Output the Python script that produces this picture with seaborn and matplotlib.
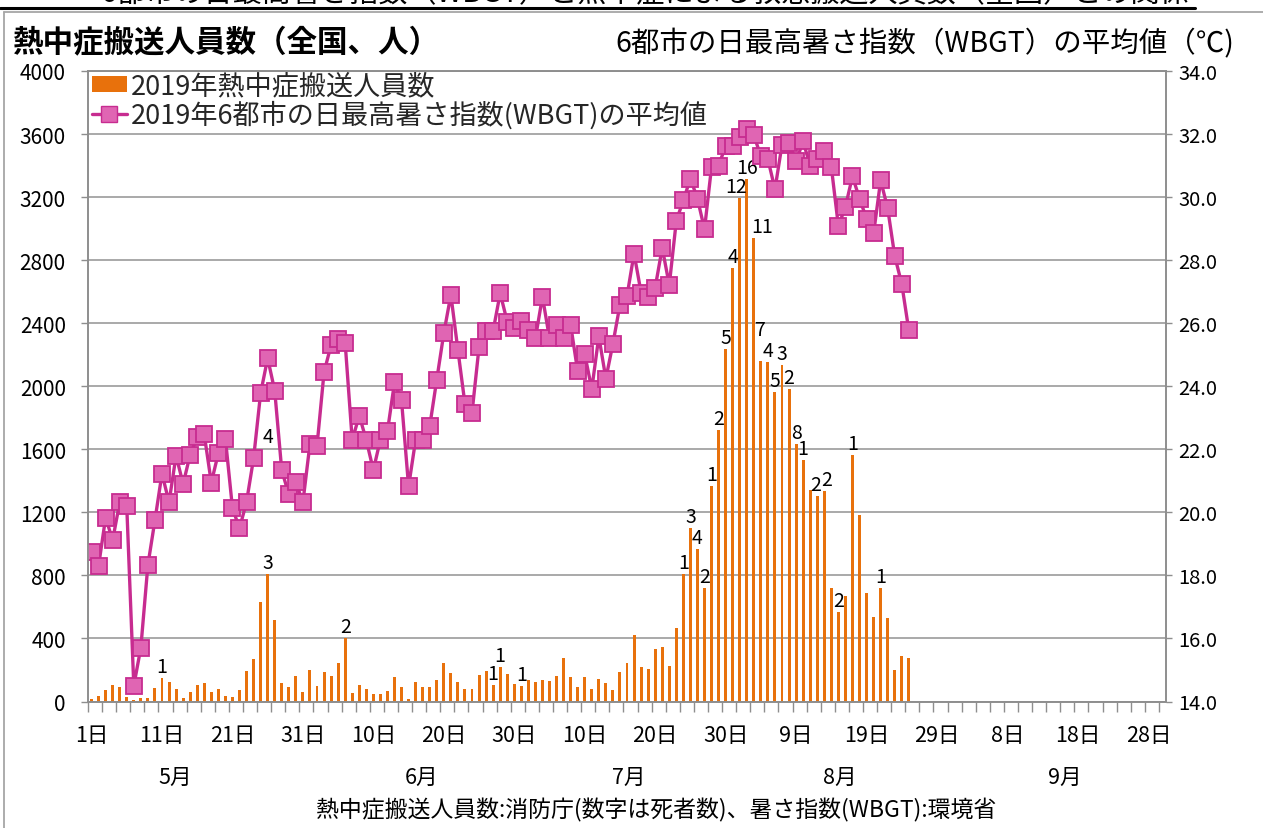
import numpy as np
import pandas as pd
import matplotlib
matplotlib.use("Agg")
import matplotlib.pyplot as plt
import matplotlib.transforms as mtransforms
from matplotlib.patches import Patch
from matplotlib.lines import Line2D
import seaborn as sns

sns.set_theme(style="white")
plt.rcParams['font.family'] = ['Noto Sans CJK JP', 'DejaVu Sans']

# ---------------- data ----------------
# day index 0 = May 1, 2019 ; axis covers May 1 .. Sep 30 (153 days)
n_axis_days = 153
day_index = list(range(117))  # May 1 .. Aug 25

transport = [17, 34, 72, 105, 93, 30, 8, 21, 21, 84,
             150, 124, 78, 25, 63, 105, 116, 59, 82, 36,
             30, 72, 194, 272, 633, 812, 519, 116, 89, 162,
             63, 203, 99, 184, 162, 245, 401, 57, 105, 78,
             47, 47, 64, 157, 94, 16, 126, 90, 90, 136,
             242, 178, 126, 79, 79, 168, 193, 104, 220, 172,
             111, 100, 136, 121, 136, 130, 161, 273, 157, 94,
             153, 79, 142, 115, 73, 187, 246, 419, 220, 206,
             332, 345, 225, 465, 811, 1102, 965, 723, 1370, 1725,
             2238, 2752, 3196, 3314, 2938, 2162, 2155, 1961, 2132, 1982,
             1636, 1529, 1339, 1303, 1335, 718, 569, 670, 1567, 1181,
             691, 537, 718, 529, 202, 288, 275]

wbgt = [18.74, 18.30, 19.83, 19.12, 20.32, 20.20, 14.50, 15.71, 18.33, 19.75,
        21.23, 20.32, 21.80, 20.90, 21.83, 22.38, 22.47, 20.94, 21.88, 22.34,
        20.14, 19.49, 20.33, 21.71, 23.78, 24.89, 23.86, 21.33, 20.57, 20.96,
        20.32, 22.17, 22.10, 24.44, 25.31, 25.50, 25.37, 22.29, 23.07, 22.29,
        21.34, 22.31, 22.57, 24.12, 23.55, 20.82, 22.30, 22.30, 22.73, 24.21,
        25.68, 26.90, 25.15, 23.44, 23.15, 25.24, 25.76, 25.76, 26.95, 26.05,
        25.84, 26.07, 25.77, 25.52, 26.84, 25.52, 25.95, 25.52, 25.95, 24.47,
        25.02, 23.91, 25.58, 24.24, 25.35, 26.58, 26.86, 28.21, 26.97, 26.84,
        27.13, 28.39, 27.21, 29.25, 29.90, 30.59, 29.95, 28.98, 30.96, 31.00,
        31.62, 31.62, 31.91, 32.17, 31.96, 31.30, 31.20, 30.25, 31.66, 31.72,
        31.14, 31.77, 30.98, 31.20, 31.45, 30.96, 29.08, 29.69, 30.66, 29.95,
        29.32, 28.85, 30.53, 29.64, 28.13, 27.24, 25.77]

deaths = {10: 1, 25: 3, 36: 2, 57: 1, 58: 1, 61: 1, 84: 1, 85: 3, 86: 4,
          87: 2, 88: 1, 89: 2, 90: 5, 91: 4, 92: 12, 93: 16, 94: 11, 95: 7,
          96: 4, 97: 5, 98: 3, 99: 2, 100: 8, 101: 1, 103: 2, 104: 2,
          106: 2, 108: 1, 112: 1}
extra_death_label = (25, 1680, "4")

x_tick_days = [0, 10, 20, 30, 40, 50, 60, 70, 80, 90, 100, 110, 120, 130, 140, 150]
x_tick_labels = ["1日", "11日", "21日", "31日", "10日", "20日", "30日", "10日",
                 "20日", "30日", "9日", "19日", "29日", "8日", "18日", "28日"]
month_labels = ["5月", "6月", "7月", "8月", "9月"]
month_pos = [11.9, 46.8, 76.2, 106.2, 138.2]
left_ticks = list(range(0, 4001, 400))
right_ticks = [14.0, 16.0, 18.0, 20.0, 22.0, 24.0, 26.0, 28.0, 30.0, 32.0, 34.0]

legend_labels = ["2019年熱中症搬送人員数", "2019年6都市の日最高暑さ指数(WBGT)の平均値"]
left_title = "熱中症搬送人員数（全国、人）"
right_title = "6都市の日最高暑さ指数（WBGT）の平均値（℃)"
note = "熱中症搬送人員数:消防庁(数字は死者数)、暑さ指数(WBGT):環境省"
header = "6都市の日最高暑さ指数（WBGT）と熱中症による救急搬送人員数（全国）との関係"

# ---------------- style ----------------
bar_color = "#E8710C"
line_color = "#C72C90"
marker_face = "#E065B3"
grid_color = "#A3A3A3"
spine_color = "#8E8E8E"
label_nudge = {92: (-0.5, 0), 94: (1.2, 0), 95: (0.0, 20), 103: (-0.25, 0), 104: (0.3, 0)}

W, H = 1263, 829
fig = plt.figure(figsize=(W / 100, H / 100), dpi=100)
fig.patch.set_facecolor("white")
ax = fig.add_axes([88 / W, (H - 702.5) / H, 1078 / W, 630.5 / H])

df = pd.DataFrame({"day": day_index, "count": transport})
sns.barplot(data=df, x="day", y="count", ax=ax, color=bar_color, width=0.42,
            native_scale=True, saturation=1, edgecolor="none", errorbar=None)

ax.set_xlim(-0.5, n_axis_days - 0.5)
ax.set_ylim(0, 4000)
ax.set_axisbelow(True)
ax.yaxis.grid(True, color=grid_color, linewidth=1.3)
ax.xaxis.grid(False)
ax.set_yticks(left_ticks)
ax.set_yticklabels([str(v) for v in left_ticks])
ax.set_xticks(x_tick_days)
ax.set_xticklabels(x_tick_labels)
ax.set_xticks(np.arange(-0.5, n_axis_days, 2), minor=True)
ax.tick_params(axis="x", which="major", length=0, pad=16, labelsize=15.5, labelcolor="black")
ax.tick_params(axis="x", which="minor", length=7, width=1.0, color=spine_color, direction="out", bottom=True)
ax.tick_params(axis="y", which="major", length=5, width=1.0, color=spine_color, pad=11,
               labelsize=15, labelcolor="black", left=True)
ax.set_xlabel("")
ax.set_ylabel("")
for s in ax.spines.values():
    s.set_color(spine_color)
    s.set_linewidth(1.2)

for i, d in deaths.items():
    dx, dy = label_nudge.get(i, (0, 0))
    ax.annotate(str(d), (i + dx, transport[i]), xytext=(0, 1 + dy), textcoords="offset pixels",
                ha="center", va="bottom", fontsize=14, color="black")
ax.text(extra_death_label[0], extra_death_label[1], extra_death_label[2],
        ha="center", va="center", fontsize=14, color="black")

ax2 = ax.twinx()
sns.lineplot(x=day_index, y=wbgt, ax=ax2, color=line_color, linewidth=2.4,
             marker="s", markersize=11, markerfacecolor=marker_face,
             markeredgecolor=line_color, markeredgewidth=1.3, sort=False)
ax2.set_ylim(14, 34)
ax2.set_yticks(right_ticks)
ax2.set_yticklabels([f"{v:.1f}" for v in right_ticks])
ax2.tick_params(axis="y", length=4, width=1.0, color=spine_color, pad=5,
                labelsize=14.5, labelcolor="black", right=True)
ax2.set_ylabel("")
ax2.grid(False)
for s in ax2.spines.values():
    s.set_color(spine_color)
    s.set_linewidth(1.2)

handles = [Patch(facecolor=bar_color, edgecolor="none"),
           Line2D([], [], color=line_color, lw=2.4, marker="s", markersize=11,
                  markerfacecolor=marker_face, markeredgecolor=line_color)]
ax2.legend(handles, legend_labels, loc="upper left", bbox_to_anchor=(0.002, 1.0),
           frameon=False, fontsize=19.5, handlelength=1.3, handleheight=0.55,
           handletextpad=0.15, borderpad=0.05, labelspacing=0.05, borderaxespad=0)

# month labels and other texts
btrans = mtransforms.blended_transform_factory(ax.transData, fig.transFigure)
for m, p in zip(month_labels, month_pos):
    fig.text(p, 1 - 778 / H, m, transform=btrans, ha="center", va="center", fontsize=15.5, color="black")

fig.text(656 / W, 1 - 810 / H, note, ha="center", va="center", fontsize=16.5, color="black")
fig.text(12 / W, 1 - 42 / H, left_title, ha="left", va="center", fontsize=22,
         fontweight="bold", color="black")
fig.text(1234 / W, 1 - 44 / H, right_title, ha="right", va="center", fontsize=20.5, color="black")

# cut-off header and frame
fig.text(645 / W, 1 - 1.5 / H, header, ha="center", va="baseline", fontsize=21, color="black")
fig.add_artist(Line2D([0, 1195 / W], [1 - 9 / H, 1 - 9 / H], color="black", lw=2.2,
                      transform=fig.transFigure))
fig.add_artist(Line2D([3.5 / W, 3.5 / W], [0, 1 - 12.5 / H], color="#A6A6A6", lw=1.3,
                      transform=fig.transFigure))
fig.add_artist(Line2D([3.5 / W, 1], [1 - 12.5 / H, 1 - 12.5 / H], color="#A6A6A6", lw=1.3,
                      transform=fig.transFigure))

fig.savefig("out.png", dpi=100, facecolor="white")
